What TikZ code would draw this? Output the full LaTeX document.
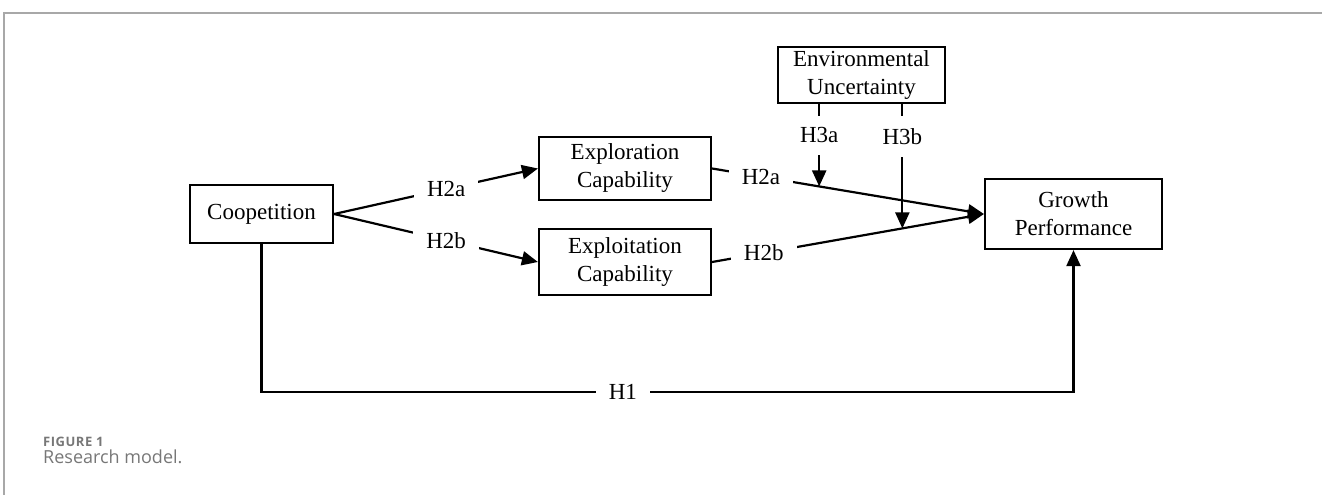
\documentclass[tikz,border=0pt]{standalone}
\usepackage{fontspec}
\setmainfont{Liberation Serif}
\newfontfamily\capfont{Open Sans}
\newfontfamily\capnumfont[LetterSpace=4]{Open Sans}
\usetikzlibrary{arrows.meta,calc}
\definecolor{framegray}{HTML}{A8A8A8}
\definecolor{capgray}{HTML}{777777}

\begin{document}
\begin{tikzpicture}[x=1pt,y=-1pt,
    box/.style={draw,line width=2.2pt,align=center,inner sep=0pt,
        font=\fontsize{23}{28}\selectfont},
    lbl/.style={fill=white,inner xsep=13pt,inner ysep=12pt,
        font=\fontsize{23}{28}\selectfont},
    arr/.style={line width=2.2pt,-{Triangle[length=16pt,width=14pt]}}]
            \useasboundingbox (0,0) rectangle (1322,495);
            \draw[framegray,line width=1.5pt] (4,495) -- (4,13) -- (1322,13);

            \node[box,minimum width=143pt,minimum height=58pt] (Coopetition) at (261.5,214) {Coopetition};
            \node[box,minimum width=172pt,minimum height=63pt] (Exploration) at (625,168.5) {Exploration\\Capability};
            \node[box,minimum width=172pt,minimum height=66pt] (Exploitation) at (625,262) {Exploitation\\Capability};
            \node[box,minimum width=167pt,minimum height=56pt] (Uncertainty) at (861.5,75) {Environmental\\Uncertainty};
            \node[box,minimum width=177pt,minimum height=70pt] (Growth) at (1073.5,214) {Growth\\Performance};

            \draw[arr] (Coopetition.east) -- node[lbl,pos=0.55] {H2a} (Exploration.west);
            \draw[arr] (Coopetition.east) -- node[lbl,pos=0.55] {H2b} (Exploitation.west);
            \draw[arr] (Exploration.east) -- node[lbl,pos=0.18] {H2a} (Growth.west);
            \draw[arr] (Exploitation.east) -- node[lbl,pos=0.19] {H2b} (Growth.west);

            % moderating effects
            \coordinate (ModA) at ($(Exploration.east)!0.394!(Growth.west)$);
            \coordinate (ModB) at ($(Exploitation.east)!0.70!(Growth.west)$);
            \draw[arr] (Uncertainty.south -| ModA) -- node[lbl,pos=0.38] {H3a} (ModA);
            \draw[arr] (Uncertainty.south -| ModB) -- node[lbl,pos=0.26] {H3b} (ModB);

            % direct effect
            \coordinate (CornerL) at (Coopetition.south |- 0,392);
            \coordinate (CornerR) at (Growth.south |- 0,392);
            \draw[arr] (Coopetition.south) -- (CornerL) -- node[lbl,pos=0.445] {H1} (CornerR) -- (Growth.south);

            \node[anchor=base west,inner sep=0pt,text=capgray,font=\capnumfont\bfseries] (FigNum) at (43,446) {\fontsize{13}{15}\selectfont FIGURE 1};
            \node[anchor=base west,inner sep=0pt,text=capgray,font=\capfont] (FigCap) at (43,463) {\fontsize{18}{21}\selectfont Research model.};
        \end{tikzpicture}
\end{document}
